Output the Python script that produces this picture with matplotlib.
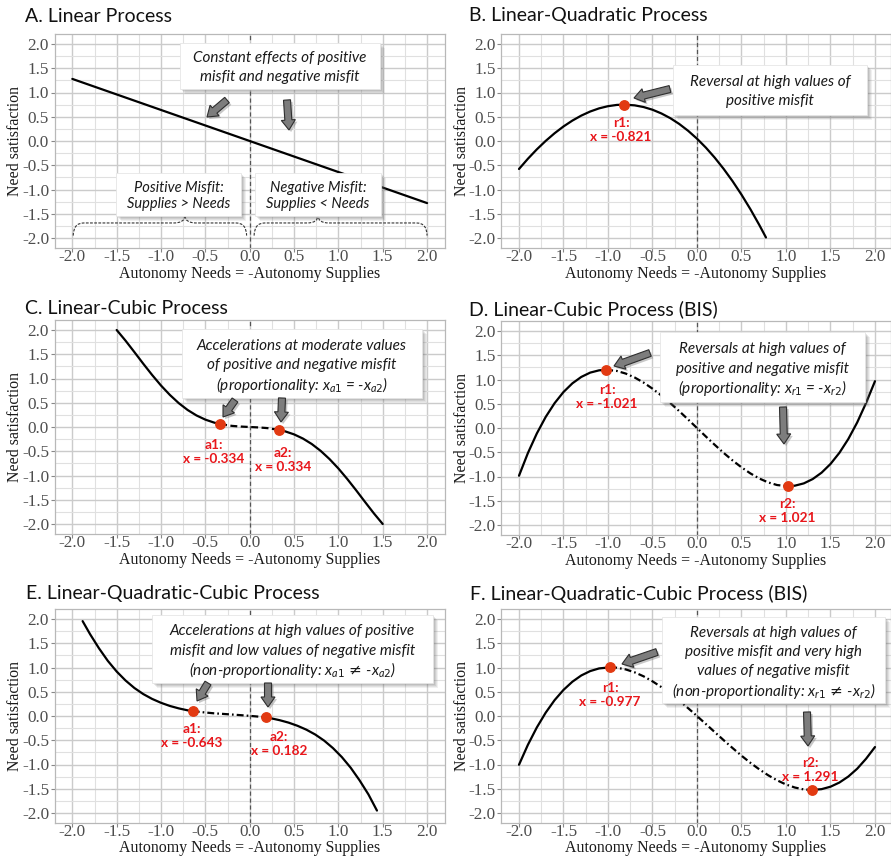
import numpy as np
import matplotlib
matplotlib.use('Agg')
import matplotlib.pyplot as plt
from matplotlib.patches import Rectangle, FancyArrow, PathPatch
from matplotlib.path import Path
from matplotlib.transforms import Affine2D
import matplotlib.patheffects as pe

plt.rcParams['axes.unicode_minus'] = False
plt.rcParams['lines.scale_dashes'] = False
plt.rcParams['mathtext.fontset'] = 'custom'
plt.rcParams['mathtext.it'] = 'Lato:italic'
plt.rcParams['mathtext.rm'] = 'DejaVu Sans'
plt.rcParams['mathtext.fallback'] = 'stixsans'

# ------------------------------------------------------------------ data
titles = ["A. Linear Process", "B. Linear-Quadratic Process", "C. Linear-Cubic Process",
          "D. Linear-Cubic Process (BIS)", "E. Linear-Quadratic-Cubic Process",
          "F. Linear-Quadratic-Cubic Process (BIS)"]
tick_vals = [-2.0, -1.5, -1.0, -0.5, 0.0, 0.5, 1.0, 1.5, 2.0]
tick_labels = ["-2.0", "-1.5", "-1.0", "-0.5", "0.0", "0.5", "1.0", "1.5", "2.0"]
x_title = "Autonomy Needs = -Autonomy Supplies"
y_title = "Need satisfaction"

# A. linear
a_x = [-2.0, -1.0, 0.0, 1.0, 2.0]
a_y = [1.28, 0.64, 0.0, -0.64, -1.28]

# B. linear-quadratic
b_x = [-2.0, -1.9, -1.8, -1.7, -1.6, -1.5, -1.4, -1.3, -1.2, -1.1, -1.0, -0.9, -0.821,
       -0.7, -0.6, -0.5, -0.4, -0.3, -0.2, -0.1, 0.0, 0.1, 0.2, 0.3, 0.4, 0.5, 0.6, 0.7, 0.775]
b_y = [-0.577, -0.366, -0.173, 0.002, 0.160, 0.300, 0.421, 0.524, 0.608, 0.673, 0.718, 0.744, 0.750,
       0.735, 0.700, 0.645, 0.568, 0.471, 0.352, 0.211, 0.048, -0.137, -0.345, -0.576, -0.829,
       -1.106, -1.406, -1.731, -1.989]

# C. linear-cubic
c_left_x = [-1.5, -1.4, -1.3, -1.2, -1.1, -1.0, -0.9, -0.8, -0.7, -0.6, -0.5, -0.4, -0.334]
c_left_y = [2.000, 1.780, 1.544, 1.304, 1.072, 0.855, 0.661, 0.492, 0.351, 0.238, 0.152, 0.090, 0.060]
c_mid_x = [-0.334, -0.2, -0.1, 0.0, 0.1, 0.2, 0.334]
c_mid_y = [0.060, 0.023, 0.009, 0.0, -0.009, -0.023, -0.060]
c_right_x = [0.334, 0.4, 0.5, 0.6, 0.7, 0.8, 0.9, 1.0, 1.1, 1.2, 1.3, 1.4, 1.5]
c_right_y = [-0.060, -0.090, -0.152, -0.238, -0.351, -0.492, -0.661, -0.855, -1.072, -1.304,
             -1.544, -1.780, -2.000]

# D. linear-cubic (BIS)
d_left_x = [-2.0, -1.9, -1.8, -1.7, -1.6, -1.5, -1.4, -1.3, -1.2, -1.1, -1.021]
d_left_y = [-0.984, -0.517, -0.114, 0.228, 0.512, 0.742, 0.921, 1.053, 1.142, 1.189, 1.200]
d_mid_x = [-1.021, -0.9, -0.8, -0.7, -0.6, -0.5, -0.4, -0.3, -0.2, -0.1, 0.0,
           0.1, 0.2, 0.3, 0.4, 0.5, 0.6, 0.7, 0.8, 0.9, 1.021]
d_mid_y = [1.200, 1.176, 1.122, 1.041, 0.936, 0.811, 0.669, 0.514, 0.348, 0.176, 0.0,
           -0.176, -0.348, -0.514, -0.669, -0.811, -0.936, -1.041, -1.122, -1.176, -1.200]
d_right_x = [1.021, 1.1, 1.2, 1.3, 1.4, 1.5, 1.6, 1.7, 1.8, 1.9, 2.0]
d_right_y = [-1.200, -1.189, -1.142, -1.053, -0.921, -0.742, -0.512, -0.228, 0.114, 0.517, 0.965]

# E. linear-quadratic-cubic
e_left_x = [-1.884, -1.8, -1.7, -1.6, -1.5, -1.4, -1.3, -1.2, -1.1, -1.0, -0.9, -0.8, -0.7, -0.643]
e_left_y = [1.956, 1.687, 1.397, 1.137, 0.917, 0.732, 0.577, 0.452, 0.352, 0.272, 0.207, 0.157,
            0.117, 0.100]
e_mid_x = [-0.643, -0.5, -0.4, -0.3, -0.2, -0.1, 0.0, 0.1, 0.182]
e_mid_y = [0.100, 0.072, 0.055, 0.043, 0.030, 0.017, 0.003, -0.013, -0.030]
e_right_x = [0.182, 0.239, 0.339, 0.439, 0.539, 0.639, 0.739, 0.839, 0.939, 1.039, 1.139,
             1.239, 1.339, 1.435]
e_right_y = [-0.030, -0.047, -0.087, -0.137, -0.202, -0.282, -0.382, -0.507, -0.662, -0.847,
             -1.067, -1.327, -1.617, -1.950]

# F. linear-quadratic-cubic (BIS)
f_left_x = [-2.0, -1.9, -1.8, -1.7, -1.6, -1.5, -1.4, -1.3, -1.2, -1.1, -0.977]
f_left_y = [-1.005, -0.594, -0.237, 0.069, 0.327, 0.538, 0.707, 0.836, 0.926, 0.981, 1.004]
f_mid_x = [-0.977, -0.9, -0.8, -0.7, -0.6, -0.5, -0.4, -0.3, -0.2, -0.1, 0.0, 0.1, 0.2, 0.3,
           0.4, 0.5, 0.6, 0.7, 0.8, 0.9, 1.0, 1.1, 1.2, 1.291]
f_mid_y = [1.004, 0.995, 0.960, 0.900, 0.818, 0.715, 0.596, 0.462, 0.317, 0.162, 0.0, -0.166,
           -0.333, -0.499, -0.661, -0.818, -0.965, -1.100, -1.222, -1.326, -1.412, -1.475,
           -1.514, -1.526]
f_right_x = [1.291, 1.4, 1.5, 1.6, 1.7, 1.8, 1.9, 2.0]
f_right_y = [-1.526, -1.508, -1.458, -1.372, -1.249, -1.087, -0.881, -0.640]

# marked points (x, y) and their labels
pts_b_x, pts_b_y, pts_b_lab = [-0.821], [0.750], ["r1:\nx = -0.821"]
pts_c_x, pts_c_y, pts_c_lab = [-0.334, 0.334], [0.060, -0.060], ["a1:\nx = -0.334", "a2:\nx = 0.334"]
pts_d_x, pts_d_y, pts_d_lab = [-1.021, 1.021], [1.200, -1.200], ["r1:\nx = -1.021", "r2:\nx = 1.021"]
pts_e_x, pts_e_y, pts_e_lab = [-0.643, 0.182], [0.100, -0.030], ["a1:\nx = -0.643", "a2:\nx = 0.182"]
pts_f_x, pts_f_y, pts_f_lab = [-0.977, 1.291], [1.004, -1.526], ["r1:\nx = -0.977", "r2:\nx = 1.291"]

notes = {
    "A": ["Constant effects of positive", "misfit and negative misfit"],
    "B": ["Reversal at high values of", "positive misfit"],
    "C": ["Accelerations at moderate values", "of positive and negative misfit",
          "(proportionality: $x_{a1}$ = -$x_{a2}$)"],
    "D": ["Reversals at high values of", "positive and negative misfit",
          "(proportionality: $x_{r1}$ = -$x_{r2}$)"],
    "E": ["Accelerations at high values of positive", "misfit and low values of negative misfit",
          "(non-proportionality: $x_{a1}\\,\\mathrm{\\neq}\\,$-$x_{a2}$)"],
    "F": ["Reversals at high values of", "positive misfit and very high",
          "values of negative misfit", "(non-proportionality: $x_{r1}\\,\\mathrm{\\neq}\\,$-$x_{r2}$)"],
}
misfit_notes = [["Positive Misfit:", "Supplies > Needs"], ["Negative Misfit:", "Supplies < Needs"]]

# ------------------------------------------------------------------ layout
W, H = 891, 857
fig = plt.figure(figsize=(W / 100, H / 100), dpi=100)
PX = Affine2D().scale(1 / 100, -1 / 100).translate(0, H / 100) + fig.dpi_scale_trans

SANS = ['Lato', 'DejaVu Sans']
SERIF = ['Liberation Serif', 'DejaVu Serif']
RED_DOT = '#e23a12'
RED_TXT = '#e8161b'

# axes boxes in pixels: left, top, right, bottom ; xlim upper
boxes = {
    "A": (54.6, 34.3, 444.8, 247.7, 2.2),
    "B": (501.2, 34.3, 891.0, 247.7, 2.18),
    "C": (54.6, 320.3, 444.8, 533.7, 2.2),
    "D": (501.2, 321.3, 891.0, 534.7, 2.18),
    "E": (54.6, 609.3, 444.8, 822.7, 2.2),
    "F": (501.2, 609.3, 891.0, 822.7, 2.18),
}
title_pos = {"A": (25, 16), "B": (469, 16), "C": (25, 308), "D": (469, 309),
             "E": (26, 593), "F": (470, 594)}
xtitle_off = {"A": 30.5, "B": 30.5, "C": 30.0, "D": 30.0, "E": 29.3, "F": 29.3}


def make_panel(key, title):
    l, t, r, b, xmax = boxes[key]
    ax = fig.add_axes([l / W, 1 - b / H, (r - l) / W, (b - t) / H])
    ax.set_xlim(-2.2, xmax)
    ax.set_ylim(-2.2, 2.2)
    ax.set_xticks(tick_vals)
    ax.set_xticklabels(tick_labels)
    ax.set_yticks(tick_vals)
    ax.set_yticklabels(tick_labels)
    ax.set_xticks(np.arange(-1.75, 2.0, 0.5), minor=True)
    ax.set_yticks(np.arange(-1.75, 2.0, 0.5), minor=True)
    ax.grid(True, which='major', color='#cbcbcb', lw=1.0, zorder=0)
    ax.grid(True, which='minor', color='#e0e0e0', lw=0.8, zorder=0)
    ax.set_axisbelow(True)
    for s in ax.spines.values():
        s.set_color('#b8b8b8')
        s.set_linewidth(0.9)
    ax.tick_params(which='major', length=3, width=0.8, color='#888888', pad=1,
                   labelsize=12.3, labelcolor='#4d4d4d')
    ax.tick_params(axis='x', which='major', pad=-1.8)
    ax.tick_params(which='minor', length=0)
    for lab in ax.get_xticklabels() + ax.get_yticklabels():
        lab.set_family(SERIF)
    ax.axvline(0, color='#555555', lw=0.9, ls=(0, (3, 2)), zorder=2)
    cx = (l + r) / 2 if key in "ACE" else 696
    fig.text(cx, b + xtitle_off[key], x_title, transform=PX, ha='center', va='baseline',
             family=SERIF, fontsize=11.4, color='#1a1a1a')
    yx = 15 if key in "ACE" else 462
    fig.text(yx, (t + b) / 2, y_title, transform=PX, ha='center', va='center',
             rotation=90, family=SERIF, fontsize=11.4, color='#1a1a1a')
    tx, ty = title_pos[key]
    fig.text(tx, ty, title, transform=PX, ha='left', va='center', family=SANS,
             fontsize=14, color='#111111')
    return ax


def curve(ax, xs, ys, ls='-'):
    ax.plot(xs, ys, color='black', lw=1.6, ls=ls, solid_capstyle='round', zorder=4)


def points(ax, xs, ys, labels, label_pos):
    ax.plot(xs, ys, 'o', color=RED_DOT, ms=6.8, mec=RED_DOT, zorder=6)
    for lab, (px_, py_) in zip(labels, label_pos):
        fig.text(px_, py_, lab, transform=PX, ha='center', va='center', family=SANS,
                 fontweight='bold', fontsize=9.8, color=RED_TXT, linespacing=1.2)


def note_box(x0, y0, x1, y1, lines, fs=11, step=19):
    for k, al in ((6, 0.10), (5, 0.12), (4, 0.14), (3, 0.16), (2, 0.18)):
        fig.add_artist(Rectangle((x0 + k - 1, y0 + k - 1), x1 - x0, y1 - y0, transform=PX,
                                 fc='#6e6e6e', ec='none', alpha=al, zorder=20))
    box = Rectangle((x0, y0), x1 - x0, y1 - y0, transform=PX, fc='white',
                    ec='#e6e6e6', lw=0.6, zorder=21)
    fig.add_artist(box)
    n = len(lines)
    cy = (y0 + y1) / 2
    for i, line in enumerate(lines):
        yy = cy + (i - (n - 1) / 2) * step
        fig.text((x0 + x1) / 2, yy, line, transform=PX, ha='center', va='center_baseline',
                 family=SANS, style='italic', fontsize=fs, color='#1a1a1a', zorder=22)


def arrow(x0, y0, x1, y1):
    a = FancyArrow(x0, y0, x1 - x0, y1 - y0, width=7, head_width=14, head_length=10,
                   length_includes_head=True, transform=PX, fc='#7d7d7d', ec='#2e2e2e',
                   lw=0.8, zorder=23,
                   path_effects=[pe.withSimplePatchShadow(offset=(1.5, -1.5),
                                                          shadow_rgbFace='#777777', alpha=0.4)])
    fig.add_artist(a)


DASH = (0, (5, 2.5))
DASHDOT = (0, (5, 2.2, 1.2, 2.2))

# ---- A
ax = make_panel("A", titles[0])
curve(ax, a_x, a_y)
brace_specs = [(-1.99, -0.035, -0.73), (0.05, 2.0, 0.77)]
for x0, x1, xm in brace_specs:
    yb, yh, yp = -1.95, -1.69, -1.53
    verts = [(x0, yb), (x0, yh), (x0 + 0.12, yh), (xm - 0.12, yh), (xm, yh), (xm, yp),
             (xm, yh), (xm + 0.12, yh), (x1 - 0.12, yh), (x1, yh), (x1, yb)]
    codes = [Path.MOVETO, Path.CURVE3, Path.CURVE3, Path.LINETO, Path.CURVE3, Path.CURVE3,
             Path.CURVE3, Path.CURVE3, Path.LINETO, Path.CURVE3, Path.CURVE3]
    ax.add_patch(PathPatch(Path(verts, codes), fc='none', ec='#333333', lw=0.8,
                           ls=(0, (2, 1)), zorder=3))
note_box(180, 43, 380, 89, notes["A"])
note_box(116, 173, 241, 216, misfit_notes[0], fs=10.5, step=16)
note_box(255, 173, 381, 216, misfit_notes[1], fs=10.5, step=16)
arrow(227, 100, 207, 117)
arrow(287, 100, 289, 130)

# ---- B
ax = make_panel("B", titles[1])
curve(ax, b_x, b_y)
points(ax, pts_b_x, pts_b_y, pts_b_lab, [(621, 130)])
note_box(673, 65, 867, 115, notes["B"])
arrow(670, 89, 634, 98)

# ---- C
ax = make_panel("C", titles[2])
curve(ax, c_left_x, c_left_y)
curve(ax, c_mid_x, c_mid_y, DASH)
curve(ax, c_right_x, c_right_y)
points(ax, pts_c_x, pts_c_y, pts_c_lab, [(214, 452), (283, 460)])
note_box(182, 329, 422, 398, notes["C"])
arrow(235, 400, 223, 417)
arrow(282, 398, 281, 422)

# ---- D
ax = make_panel("D", titles[3])
curve(ax, d_left_x, d_left_y)
curve(ax, d_mid_x, d_mid_y, DASHDOT)
curve(ax, d_right_x, d_right_y)
points(ax, pts_d_x, pts_d_y, pts_d_lab, [(607, 397), (787, 511)])
note_box(660, 332, 865, 402, notes["D"])
arrow(650, 353, 614, 366)
arrow(783, 407, 784, 444)

# ---- E
ax = make_panel("E", titles[4])
curve(ax, e_left_x, e_left_y)
curve(ax, e_mid_x, e_mid_y, DASHDOT)
curve(ax, e_right_x, e_right_y)
points(ax, pts_e_x, pts_e_y, pts_e_lab, [(192, 736), (279, 744)])
note_box(152, 615, 433, 683, notes["E"])
arrow(208, 683, 197, 701)
arrow(268, 683, 268, 707)

# ---- F
ax = make_panel("F", titles[5])
curve(ax, f_left_x, f_left_y)
curve(ax, f_mid_x, f_mid_y, DASHDOT)
curve(ax, f_right_x, f_right_y)
points(ax, pts_f_x, pts_f_y, pts_f_lab, [(610, 695), (810, 770)])
note_box(662, 617, 885, 703, notes["F"])
arrow(657, 652, 622, 664)
arrow(807, 712, 808, 746)

fig.savefig("out.png", dpi=100)
